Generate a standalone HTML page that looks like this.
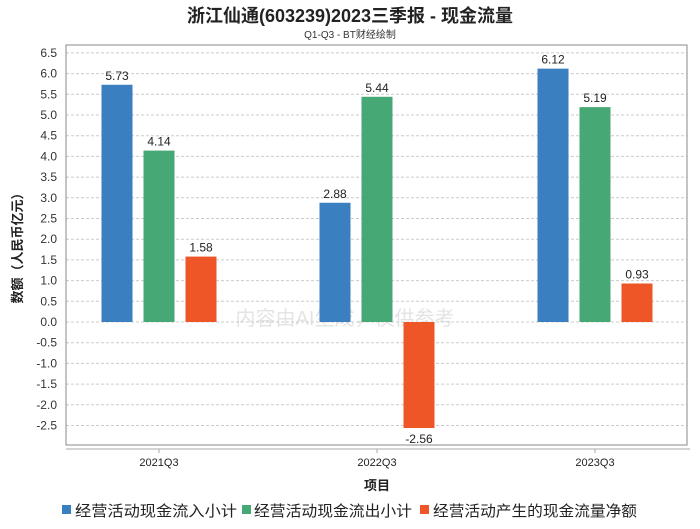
<!DOCTYPE html>
<html><head><meta charset="utf-8"><style>
body{margin:0;background:#fff;}
svg text{font-family:"Liberation Sans","Noto Sans CJK SC",sans-serif;}
</style></head><body>
<svg id="c" width="700" height="524">
<text x="350" y="22" text-anchor="middle" font-size="18" font-weight="bold" fill="#222">浙江仙通(603239)2023三季报 - 现金流量</text>
<text x="350" y="38" text-anchor="middle" font-size="10" fill="#333">Q1-Q3 - BT财经绘制</text>
<text x="345" y="325" text-anchor="middle" font-size="20" fill="#e4e4e4">内容由AI生成，仅供参考</text>
<g id="grid"></g><g id="bars"></g>
<rect x="66" y="45" width="621" height="400" fill="none" stroke="#888"/>
<line x1="66" y1="449" x2="690" y2="449" stroke="#aaa"/>
<g id="xl"></g>
<text x="22" y="245" text-anchor="middle" font-size="13" font-weight="bold" fill="#222" transform="rotate(-90 22 245)">数额（人民币亿元）</text>
<text x="377" y="490" text-anchor="middle" font-size="13" font-weight="bold" fill="#222">项目</text>
<g>
<rect x="62" y="505" width="9" height="9" fill="#3a7fc0"/>
<text x="75" y="516" font-size="15" textLength="162" lengthAdjust="spacingAndGlyphs" fill="#222">经营活动现金流入小计</text>
<rect x="242" y="505" width="9" height="9" fill="#46a874"/>
<text x="254" y="516" font-size="15" textLength="158" lengthAdjust="spacingAndGlyphs" fill="#222">经营活动现金流出小计</text>
<rect x="420" y="505" width="9" height="9" fill="#ee5527"/>
<text x="433" y="516" font-size="15" textLength="204" lengthAdjust="spacingAndGlyphs" fill="#222">经营活动产生的现金流量净额</text>
</g>
</svg>
<script>
const categories=["2021Q3","2022Q3","2023Q3"];
const inflow=[5.73,2.88,6.12];
const outflow=[4.14,5.44,5.19];
const net=[1.58,-2.56,0.93];
const yTicks=[6.5,6.0,5.5,5.0,4.5,4.0,3.5,3.0,2.5,2.0,1.5,1.0,0.5,0.0,-0.5,-1.0,-1.5,-2.0,-2.5];
const NS="http://www.w3.org/2000/svg";
function y(v){return 322-v*41.4;}
function xc(i){return 159+i*218;}
function mk(t,a,p){const e=document.createElementNS(NS,t);for(const k in a)e.setAttribute(k,a[k]);p.appendChild(e);return e;}
const grid=document.getElementById('grid');
yTicks.forEach(v=>{
 const l=mk('line',{x1:66,x2:687,y1:y(v),y2:y(v),stroke:'#ccc','stroke-dasharray':'3,2'},grid);
 
 
 const t=mk('text',{x:57,y:y(v)+4,'text-anchor':'end','font-size':12,fill:'#333'},grid);
 t.textContent=v.toFixed(1);
 
 
});
const bars=document.getElementById('bars');
const series=[[inflow,'#3a7fc0',-42,'inflow'],[outflow,'#46a874',0,'outflow'],[net,'#ee5527',42,'net']];
series.forEach(([d,c,o,n])=>{
 d.forEach((v,i)=>{
  const x=xc(i)+o-15.5;
  const r=mk('rect',{x:x,y:Math.min(y(v),y(0)),width:31,height:Math.abs(y(v)-y(0)),fill:c},bars);
  
  
  const t=mk('text',{x:x+15.5,y:v>=0?y(v)-5:y(v)+15,'text-anchor':'middle','font-size':12,fill:'#222'},bars);
  t.textContent=v.toFixed(2);
  
  
 });
});
const xl=document.getElementById('xl');
categories.forEach((c,i)=>{
 const l=mk('line',{x1:xc(i),x2:xc(i),y1:449,y2:453,stroke:'#aaa'},xl);
 
 
 const t=mk('text',{x:xc(i),y:466,'text-anchor':'middle','font-size':11,fill:'#222'},xl);
 t.textContent=c;
 
 
});
</script>
</body></html>
